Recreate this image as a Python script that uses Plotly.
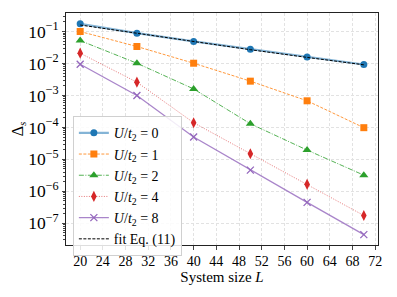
import plotly.graph_objects as go

L = [20, 30, 40, 50, 60, 70]
u0 = [0.174, 0.089, 0.049, 0.028, 0.016, 0.0093]
u1 = [0.100, 0.034, 0.0102, 0.0028, 0.00068, 9.8e-5]
u2 = [0.052, 0.0102, 0.0016, 1.3e-4, 1.95e-5, 3.2e-6]
u4 = [0.021, 0.0026, 1.4e-4, 1.5e-5, 1.65e-6, 1.75e-7]
u8 = [0.0095, 0.0010, 5.0e-5, 4.6e-6, 4.5e-7, 4.4e-8]
fit = [0.160, 0.087, 0.048, 0.027, 0.0155, 0.0091]

x_ticks = list(range(20, 73, 4))

FONT = "Liberation Serif"

series = [
    ("<i>U</i>/<i>t</i><sub>2</sub> = 0", u0, "#1f77b4", "rgba(31,119,180,0.55)", 2.2, "solid", "circle", 7),
    ("<i>U</i>/<i>t</i><sub>2</sub> = 1", u1, "#ff7f0e", "rgba(255,127,14,0.9)", 0.9, "3px,1.5px", "square", 7),
    ("<i>U</i>/<i>t</i><sub>2</sub> = 2", u2, "#2ca02c", "rgba(44,160,44,0.9)", 0.9, "5px,1.5px,1px,1.5px", "triangle-up", 8),
    ("<i>U</i>/<i>t</i><sub>2</sub> = 4", u4, "#d62728", "rgba(214,39,40,0.7)", 0.9, "1px,1.5px", "diamond-tall", 8),
    ("<i>U</i>/<i>t</i><sub>2</sub> = 8", u8, "#9467bd", "rgba(148,103,189,0.8)", 1.3, "solid", "x-thin-open", 7),
]

fig = go.Figure()
for name, ys, mc, lc, lw, dash, sym, size in series:
    marker = dict(color=mc, symbol=sym, size=size)
    if sym == "x-thin-open":
        marker["line"] = dict(color=mc, width=1.3)
    fig.add_trace(go.Scatter(
        x=L, y=ys, name=name, mode="lines+markers",
        line=dict(color=lc, width=lw, dash=dash),
        marker=marker,
    ))

fig.add_trace(go.Scatter(
    x=L, y=fit, name="fit Eq. (11)", mode="lines",
    line=dict(color="black", width=1, dash="3px,1.5px"),
))

# page has an 8px body margin: figure is 389x289 and offset by 8px
fig.update_layout(
    width=389, height=289,
    margin=dict(l=58, r=19, t=5, b=52),
    paper_bgcolor="white", plot_bgcolor="white",
    font=dict(family=FONT, size=14, color="black"),
    showlegend=True,
    legend=dict(
        x=0.022, y=0.555, xanchor="left", yanchor="top",
        bgcolor="rgba(255,255,255,0.85)", bordercolor="#d0d0d0", borderwidth=1,
        font=dict(family=FONT, size=14), tracegroupgap=0,
        itemwidth=30,
    ),
)
fig.update_xaxes(
    range=[17.5, 72.5], tickvals=x_ticks, ticks="outside", ticklen=3.5,
    showline=True, mirror=True, linecolor="#222", linewidth=1,
    showgrid=True, gridcolor="#e2e2e2", griddash="3px,2px", gridwidth=0.8,
    zeroline=False,
    title=dict(text="System size <i>L</i>", font=dict(family=FONT, size=15), standoff=2),
    tickfont=dict(family=FONT, size=14),
)
fig.update_yaxes(
    type="log", range=[-7.68, -0.42], dtick=1, exponentformat="power",
    ticks="outside", ticklen=3.5,
    minor=dict(ticks="outside", ticklen=2, showgrid=False),
    showline=True, mirror=True, linecolor="#222", linewidth=1,
    showgrid=True, gridcolor="#e2e2e2", griddash="3px,2px", gridwidth=0.8,
    zeroline=False,
    title=dict(text="Δ<sub><i>s</i></sub>", font=dict(family=FONT, size=16), standoff=0),
    tickfont=dict(family=FONT, size=14),
)

fig.write_html("out.html")
